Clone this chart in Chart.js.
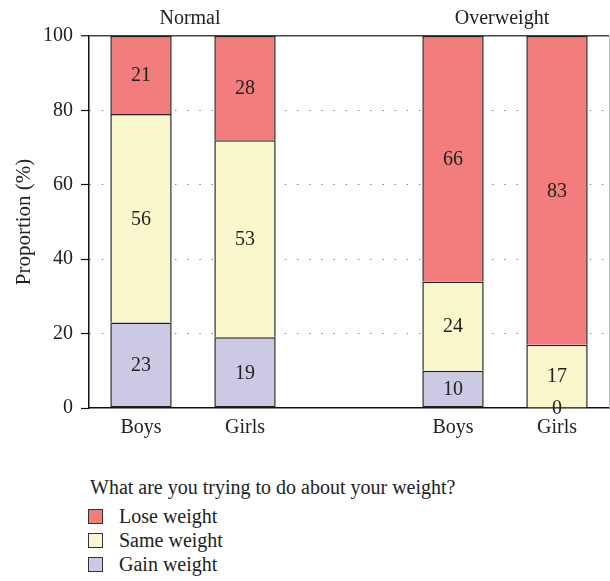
<!DOCTYPE html>
<html>
<head>
<meta charset="utf-8">
<script src="https://cdn.jsdelivr.net/npm/chart.js@4/dist/chart.umd.min.js"></script>
<style>
  body { margin: 0; background: #fff; }
  #wrap { position: relative; width: 610px; height: 581px; }
  #legend { position: absolute; left: 88px; top: 475px; font-family: "Liberation Serif", serif; font-size: 20px; color: #222; }
  #legend .title { line-height: 24px; margin-bottom: 5px; margin-left: 2px; }
  #legend .item { display: flex; align-items: center; line-height: 24px; }
  #legend .box { width: 13px; height: 13px; border: 1.5px solid #333; margin-right: 16px; }
</style>
</head>
<body>
<div id="wrap">
  <canvas id="chart" width="610" height="450"></canvas>
  <div id="legend"></div>
</div>
<script>
const categories = ['Boys', 'Girls', '', 'Boys', 'Girls']
const groups = [
  {name: 'Normal', members: [0, 1]},
  {name: 'Overweight', members: [3, 4]}
]
const gainWeight = [23, 19, null, 10, 0]
const sameWeight = [56, 53, null, 24, 17]
const loseWeight = [21, 28, null, 66, 83]
const yTicks = [0, 20, 40, 60, 80, 100]
const legendTitle = 'What are you trying to do about your weight?'

const fontFam = '"Liberation Serif", serif'
const textColor = '#222'

// value in the middle of each segment
const segmentLabels = {
  id: 'segmentLabels',
  afterDraw(chart) {
    const ctx = chart.ctx
    ctx.save()
    ctx.font = '20px ' + fontFam
    ctx.fillStyle = textColor
    ctx.textAlign = 'center'
    ctx.textBaseline = 'middle'
    chart.data.datasets.forEach((ds, i) => {
      chart.getDatasetMeta(i).data.forEach((bar, j) => {
        if (ds.data[j] == null) return
        ctx.fillText(ds.data[j], bar.x, (bar.y + bar.base) / 2 + 1)
      })
    })
    ctx.restore()
  }
}

// group names above the bars + right frame line
const groupTitles = {
  id: 'groupTitles',
  afterDraw(chart) {
    const ctx = chart.ctx
    const x = chart.scales.x
    const area = chart.chartArea
    ctx.save()
    ctx.strokeStyle = '#bbb'
    ctx.lineWidth = 1
    ctx.beginPath()
    ctx.moveTo(area.right + 0.5, area.top)
    ctx.lineTo(area.right + 0.5, area.bottom)
    ctx.stroke()
    ctx.font = '20px ' + fontFam
    ctx.fillStyle = textColor
    ctx.textAlign = 'center'
    ctx.textBaseline = 'alphabetic'
    groups.forEach(g => {
      const px = g.members.map(m => x.getPixelForValue(m))
      ctx.fillText(g.name, (px[0] + px[px.length - 1]) / 2 - 3, area.top - 12)
    })
    ctx.restore()
  }
}

// bottom segment keeps its full outline, upper ones share the line below
const mkSet = (label, data, color, skip) => ({
  label: label,
  data: data,
  backgroundColor: color,
  borderColor: '#222',
  borderWidth: 1.5,
  borderSkipped: skip,
  barPercentage: 0.59,
  categoryPercentage: 1
})

const chart = new Chart(document.getElementById('chart'), {
  type: 'bar',
  data: {
    labels: categories,
    datasets: [
      mkSet('Gain weight', gainWeight, '#cbc9e3', false),
      mkSet('Same weight', sameWeight, '#faf7cd', 'start'),
      mkSet('Lose weight', loseWeight, '#f37d7d', 'start')
    ]
  },
  options: {
    responsive: false,
    animation: false,
    layout: {padding: {top: 36, right: 1, left: 0, bottom: 0}},
    plugins: {legend: {display: false}, tooltip: {enabled: false}},
    scales: {
      x: {
        stacked: true,
        afterFit: s => { s.height = 42 },
        grid: {drawOnChartArea: false, drawTicks: false},
        border: {display: true, color: '#111', width: 1.5},
        ticks: {color: textColor, font: {family: fontFam, size: 20}, padding: 8}
      },
      y: {
        stacked: true,
        min: 0,
        max: 100,
        afterFit: s => { s.width = 89 },
        afterBuildTicks: s => { s.ticks = yTicks.map(v => ({value: v})) },
        grid: {
          color: c => c.tick.value === 0 ? 'rgba(0,0,0,0)' : (c.tick.value === 100 ? '#444' : '#888'),
          lineWidth: c => c.tick.value === 100 ? 1.5 : 1,
          tickColor: '#111',
          tickLength: 8,
          tickWidth: 1.2
        },
        border: {
          display: true, color: '#111', width: 1.5,
          dash: c => (c.tick && c.tick.value !== 100) ? [1.5, 10.7] : []
        },
        ticks: {color: textColor, font: {family: fontFam, size: 20}, padding: 8},
        title: {
          display: true, text: 'Proportion (%)', color: textColor,
          font: {family: fontFam, size: 21}, padding: {top: 12, bottom: 0}
        }
      }
    }
  },
  plugins: [segmentLabels, groupTitles]
})

// legend below the chart, top of stack first
const legend = document.getElementById('legend')
legend.innerHTML = '<div class="title">' + legendTitle + '</div>'
chart.data.datasets.slice().reverse().forEach(ds => {
  const item = document.createElement('div')
  item.className = 'item'
  item.innerHTML = '<span class="box" style="background:' + ds.backgroundColor + '"></span>' + ds.label
  legend.append(item)
})
</script>
</body>
</html>
